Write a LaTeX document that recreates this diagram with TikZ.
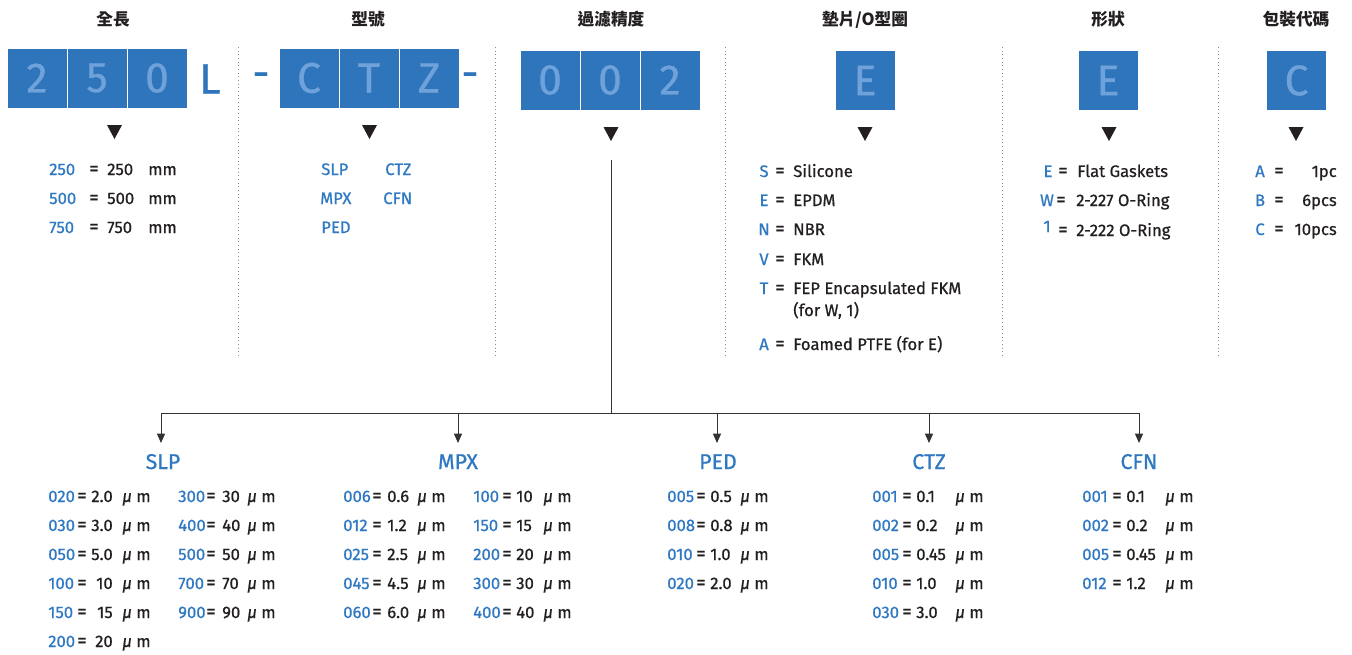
\documentclass[tikz,border=0pt]{standalone}
\usepackage{fontspec}
\setmainfont{Fira Sans}[UprightFeatures={FakeBold=0.7},ItalicFeatures={FakeBold=0.7}]
\newfontfamily\cjk{Noto Sans CJK TC}
\usetikzlibrary{arrows.meta}
\definecolor{cblue}{HTML}{2E75BB}
\definecolor{tblue}{HTML}{2F78C2}
\definecolor{clight}{HTML}{6FA2DA}
\definecolor{cdark}{HTML}{231F20}
\definecolor{cline}{HTML}{333333}
\definecolor{csep}{HTML}{8A8A8A}
\newcommand\mum{{\itshape μ} m}
% table row: name, y, xcode, code, xeq, xval, anchor, val, xmu
\newcommand\trow[9]{%
  \node[code,anchor=base west] (#1c) at (#3,#2) {#4};
  \node[eq,anchor=base] (#1e) at (#5,#2) {=};
  \node[lst,anchor=base #7] (#1v) at (#6,#2) {#8};
  \node[lst,anchor=base west] (#1u) at (#9,#2) {\mum};
}
% list row: name, y, xcode, code anchor, code, xeq, xtext, text anchor, text
\newcommand\lrow[9]{%
  \node[code,anchor=base #4] (#1c) at (#3,#2) {#5};
  \node[eq,anchor=base] (#1e) at (#6,#2) {=};
  \node[lst,anchor=base #8] (#1t) at (#7,#2) {#9};
}
\begin{document}
\begin{tikzpicture}[x=0.75pt,y=-0.75pt,
  box/.style={fill=cblue,draw=white,line width=0.75pt,minimum width=45pt,minimum height=45pt,inner sep=0pt,text=clight,font=\fontsize{32}{32}\selectfont},
  bigtxt/.style={inner sep=0pt,text=cblue,font=\fontsize{32}{32}\selectfont},
  hdr/.style={inner sep=0pt,text=cdark,font=\cjk\bfseries\fontsize{12.5}{14}\selectfont},
  lst/.style={inner sep=0pt,text=cdark,font=\fontsize{12.5}{14}\selectfont},
  eq/.style={lst,font=\fontsize{14.5}{14}\selectfont},
  code/.style={lst,text=tblue},
  ttl/.style={inner sep=0pt,text=tblue,font=\fontsize{16}{18}\selectfont},
  sep/.style={csep,line width=0.75pt,dotted},
  tri/.style={fill=cdark},
  line/.style={cline,line width=0.75pt},
  arr/.style={line,-{Triangle[length=7pt,width=6pt]}}]
\useasboundingbox (0,0) rectangle (1352,654);
\fill[white] (0,0) rectangle (1352,654);

% headers
\node[hdr] (h1) at (113,19.5) {全長};
\node[hdr] (h2) at (368,19.5) {型號};
\node[hdr] (h3) at (611,19.5) {過濾精度};
\node[hdr] (h4) at (865,19.5) {墊片/O型圈};
\node[hdr] (h5) at (1108,19.5) {形狀};
\node[hdr] (h6) at (1296,19.5) {包裝代碼};

% separators
\foreach \sx in {238,495,725,1002,1218} \draw[sep] (\sx,47) -- (\sx,358);

% boxes
\node[box] (b1) at (37,78) {2};
\node[box] (b2) at (97,78) {5};
\node[box] (b3) at (157,78) {0};
\node[bigtxt] (bL) at (210,79) {L};
\node[bigtxt] (d1) at (261,80) {-};
\node[box] (b4) at (309,78) {C};
\node[box] (b5) at (369,78) {T};
\node[box] (b6) at (429,78) {Z};
\node[bigtxt] (d2) at (470,80) {-};
\node[box] (b7) at (550,80) {0};
\node[box] (b8) at (610,80) {0};
\node[box] (b9) at (670,80) {2};
\node[box] (b10) at (865,80.5) {E};
\node[box] (b11) at (1108,80.5) {E};
\node[box] (b12) at (1296.5,80.5) {C};

% triangles
\fill[tri] (107,125) -- (122,125) -- (114.5,139) -- cycle;
\fill[tri] (362,125) -- (377,125) -- (369.5,139) -- cycle;
\fill[tri] (603.5,127) -- (618.5,127) -- (611,141) -- cycle;
\fill[tri] (857.5,127) -- (872.5,127) -- (865,141) -- cycle;
\fill[tri] (1101.5,127) -- (1116.5,127) -- (1109,141) -- cycle;
\fill[tri] (1288.5,127) -- (1303.5,127) -- (1296,141) -- cycle;

% length list
\node[code,anchor=base west] (l1c) at (49,175) {250};
\node[eq,anchor=base] (l1e) at (94,175) {=};
\node[lst,anchor=base west] (l1v) at (107,175) {250};
\node[lst,anchor=base west] (l1u) at (148,175) {mm};
\node[code,anchor=base west] (l2c) at (49,204) {500};
\node[eq,anchor=base] (l2e) at (94,204) {=};
\node[lst,anchor=base west] (l2v) at (107,204) {500};
\node[lst,anchor=base west] (l2u) at (148,204) {mm};
\node[code,anchor=base west] (l3c) at (49,233) {750};
\node[eq,anchor=base] (l3e) at (94,233) {=};
\node[lst,anchor=base west] (l3v) at (107,233) {750};
\node[lst,anchor=base west] (l3u) at (148,233) {mm};

% type list
\node[code,anchor=base west] (tSLP) at (321,175) {SLP};
\node[code,anchor=base west] (tCTZ) at (385,175) {CTZ};
\node[code,anchor=base west] (tMPX) at (320,204) {MPX};
\node[code,anchor=base west] (tCFN) at (383,204) {CFN};
\node[code,anchor=base west] (tPED) at (321,233) {PED};

% gasket list
\lrow{g1}{177}{764}{}{S}{780}{793}{west}{Silicone}
\lrow{g2}{206}{764}{}{E}{780}{793}{west}{EPDM}
\lrow{g3}{235}{764}{}{N}{780}{793}{west}{NBR}
\lrow{g4}{265}{764}{}{V}{780}{793}{west}{FKM}
\lrow{g5}{294}{764}{}{T}{780}{793}{west}{FEP Encapsulated FKM}
\node[lst,anchor=base west] (g5b) at (793,316) {(for W, 1)};
\lrow{g6}{350}{764}{}{A}{780}{793}{west}{Foamed PTFE (for E)}

% shape list
\lrow{s1}{177}{1048}{}{E}{1063}{1077}{west}{Flat Gaskets}
\lrow{s2}{206}{1047}{}{W}{1061}{1076}{west}{2-227 O-Ring}
\lrow{s3}{236}{1047}{}{\raisebox{3pt}{1}}{1063}{1076}{west}{2-222 O-Ring}

% package list
\lrow{p1}{177}{1260}{}{A}{1279}{1337}{east}{1pc}
\lrow{p2}{206}{1260}{}{B}{1279}{1337}{east}{6pcs}
\lrow{p3}{235}{1260}{}{C}{1279}{1337}{east}{10pcs}

% connectors
\coordinate (trunk) at (611,160);
\coordinate (jn) at (611,413);
\coordinate (bslp) at (161,413);
\coordinate (bmpx) at (458,413);
\coordinate (bped) at (717,413);
\coordinate (bctz) at (929,413);
\coordinate (bcfn) at (1139,413);
\coordinate (aslp) at (161,443);
\coordinate (ampx) at (458,443);
\coordinate (aped) at (717,443);
\coordinate (actz) at (929,443);
\coordinate (acfn) at (1139,443);
\draw[line] (trunk) -- (jn);
\draw[line] (bslp) -- (bcfn);
\draw[arr] (bslp) -- (aslp);
\draw[arr] (bmpx) -- (ampx);
\draw[arr] (bped) -- (aped);
\draw[arr] (bctz) -- (actz);
\draw[arr] (bcfn) -- (acfn);

% titles
\node[ttl,anchor=base] (nslp) at (163,469) {SLP};
\node[ttl,anchor=base] (nmpx) at (458,469) {MPX};
\node[ttl,anchor=base] (nped) at (718,469) {PED};
\node[ttl,anchor=base] (nctz) at (929,469) {CTZ};
\node[ttl,anchor=base] (ncfn) at (1139,469) {CFN};

% SLP
\trow{sa1}{502}{48}{020}{82}{113}{east}{2.0}{122}
\trow{sa2}{531}{48}{030}{82}{113}{east}{3.0}{122}
\trow{sa3}{560}{48}{050}{82}{113}{east}{5.0}{122}
\trow{sa4}{589}{48}{100}{82}{113}{east}{10}{122}
\trow{sa5}{618}{48}{150}{82}{113}{east}{15}{122}
\trow{sa6}{647}{48}{200}{82}{113}{east}{20}{122}
\trow{sb1}{502}{178}{300}{211}{222}{west}{30}{247}
\trow{sb2}{531}{178}{400}{211}{222}{west}{40}{247}
\trow{sb3}{560}{178}{500}{211}{222}{west}{50}{247}
\trow{sb4}{589}{178}{700}{211}{222}{west}{70}{247}
\trow{sb5}{618}{178}{900}{211}{222}{west}{90}{247}
% MPX
\trow{ma1}{502}{343}{006}{377}{387}{west}{0.6}{417}
\trow{ma2}{531}{343}{012}{377}{387}{west}{1.2}{417}
\trow{ma3}{560}{343}{025}{377}{387}{west}{2.5}{417}
\trow{ma4}{589}{343}{045}{377}{387}{west}{4.5}{417}
\trow{ma5}{618}{343}{060}{377}{387}{west}{6.0}{417}
\trow{mb1}{502}{473}{100}{507}{516}{west}{10}{543}
\trow{mb2}{531}{473}{150}{507}{516}{west}{15}{543}
\trow{mb3}{560}{473}{200}{507}{516}{west}{20}{543}
\trow{mb4}{589}{473}{300}{507}{516}{west}{30}{543}
\trow{mb5}{618}{473}{400}{507}{516}{west}{40}{543}
% PED
\trow{pa1}{502}{667}{005}{701}{710}{west}{0.5}{740}
\trow{pa2}{531}{667}{008}{701}{710}{west}{0.8}{740}
\trow{pa3}{560}{667}{010}{701}{710}{west}{1.0}{740}
\trow{pa4}{589}{667}{020}{701}{710}{west}{2.0}{740}
% CTZ
\trow{ca1}{502}{872}{001}{907}{916}{west}{0.1}{955}
\trow{ca2}{531}{872}{002}{907}{916}{west}{0.2}{955}
\trow{ca3}{560}{872}{005}{907}{916}{west}{0.45}{955}
\trow{ca4}{589}{872}{010}{907}{916}{west}{1.0}{955}
\trow{ca5}{618}{872}{030}{907}{916}{west}{3.0}{955}
% CFN
\trow{fa1}{502}{1082}{001}{1117}{1126}{west}{0.1}{1165}
\trow{fa2}{531}{1082}{002}{1117}{1126}{west}{0.2}{1165}
\trow{fa3}{560}{1082}{005}{1117}{1126}{west}{0.45}{1165}
\trow{fa4}{589}{1082}{012}{1117}{1126}{west}{1.2}{1165}
\end{tikzpicture}
\end{document}
